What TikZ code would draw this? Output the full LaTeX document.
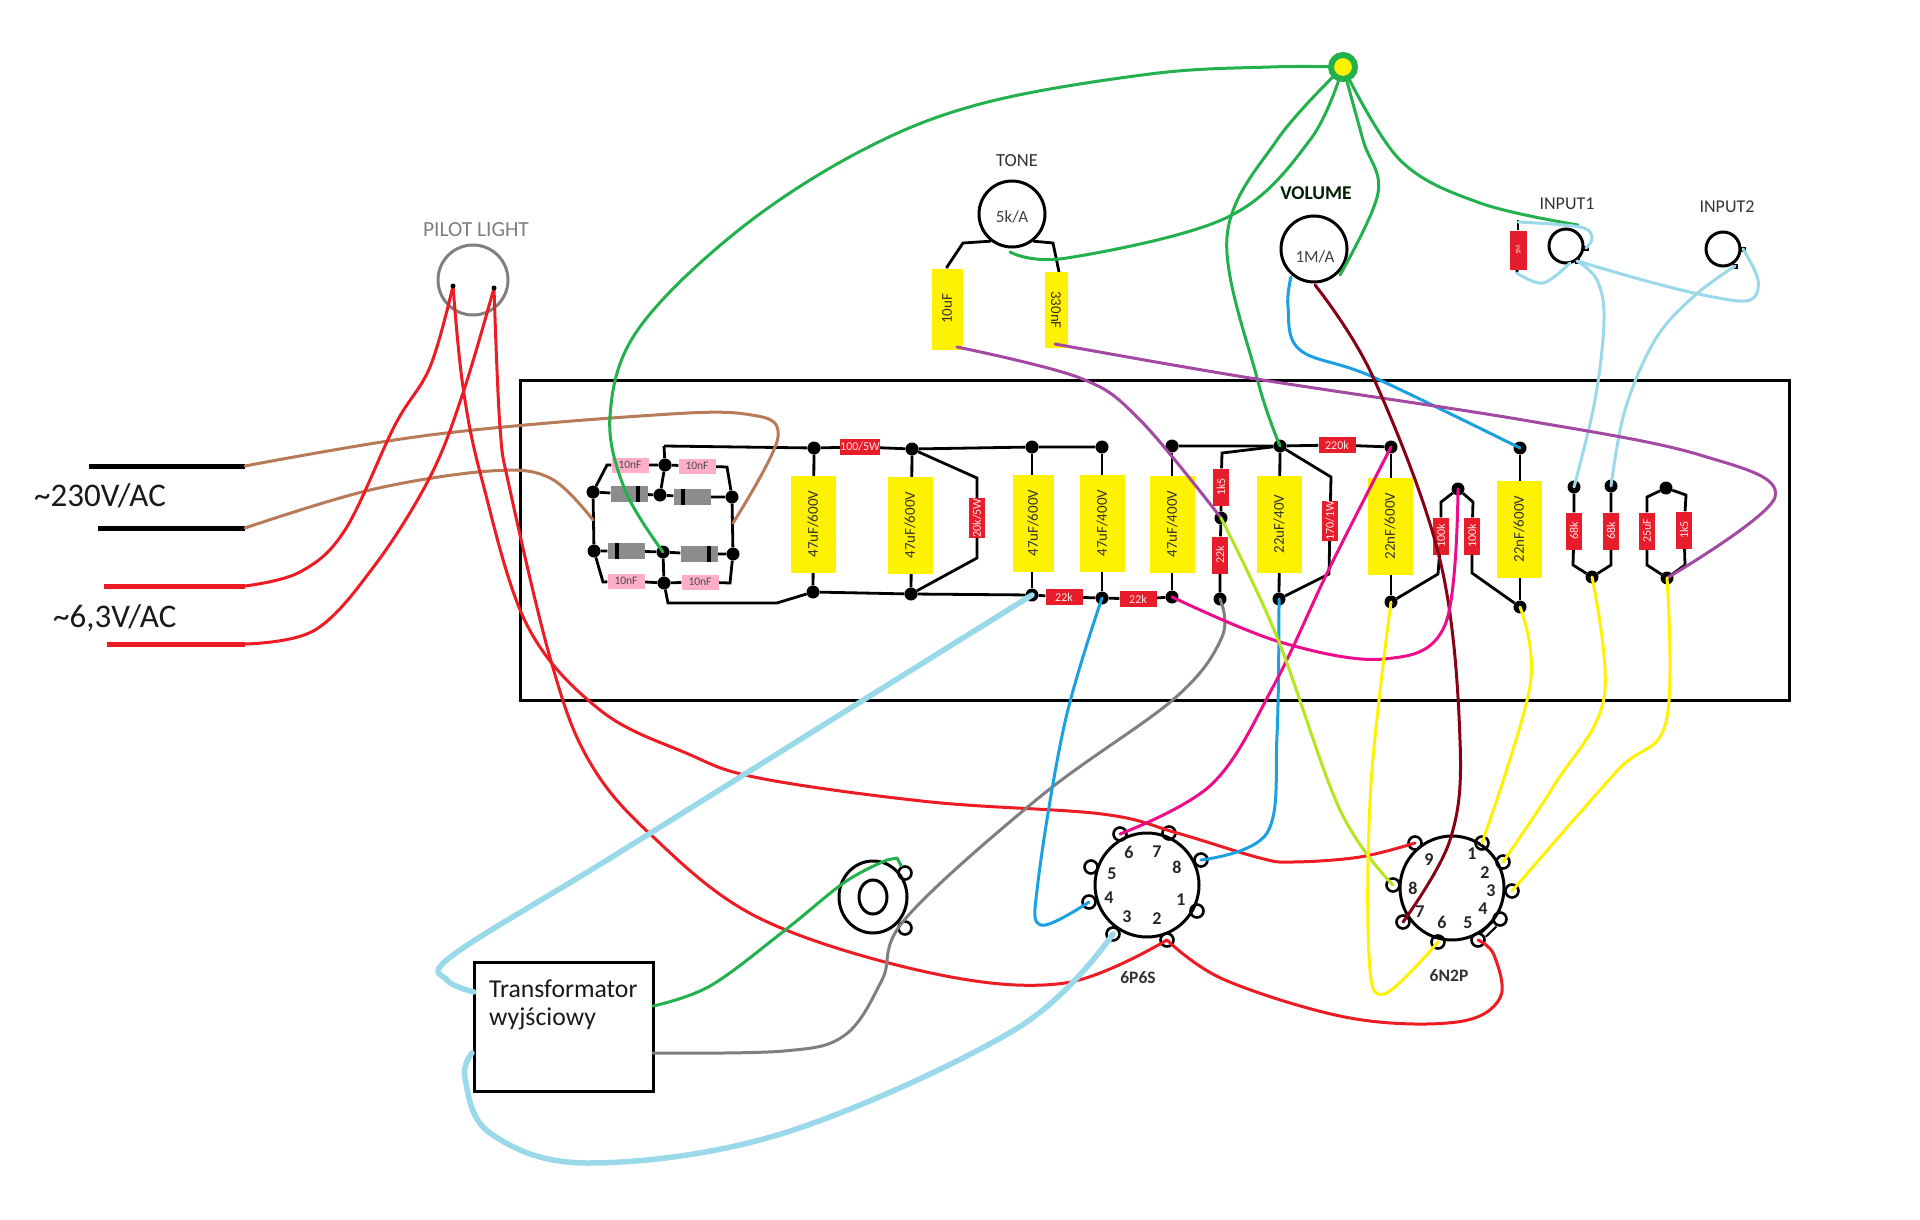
\documentclass[tikz,border=0pt]{standalone}
\usepackage{fontspec}
\setmainfont{Carlito}
\usetikzlibrary{backgrounds,shapes.geometric}
\definecolor{wgreen}{HTML}{22B14C}
\definecolor{wred}{HTML}{ED1C24}
\definecolor{wbrown}{HTML}{B97A57}
\definecolor{wpurple}{HTML}{A349A4}
\definecolor{wsky}{HTML}{99D9EA}
\definecolor{wblue}{HTML}{1BA1E2}
\definecolor{wmag}{HTML}{EC0C8C}
\definecolor{wlime}{HTML}{B5E61D}
\definecolor{wyel}{HTML}{FFF200}
\definecolor{wmar}{HTML}{880015}
\definecolor{wgrey}{HTML}{7F7F7F}
\definecolor{cpink}{HTML}{FFAEC9}
\definecolor{cred}{HTML}{E71D2B}
\definecolor{dgrey}{HTML}{8C8C8C}
\tikzset{
 dotn/.style={circle,fill=black,inner sep=0pt,minimum size=13pt},
 tabn/.style={fill=black,inner sep=0pt,minimum size=5pt},
 pinn/.style={circle,draw=black,line width=2.6pt,inner sep=0pt,minimum size=13pt},
 ycap/.style={fill=wyel,inner sep=0pt,minimum width=97pt,minimum height=45pt,font=\fontsize{15}{16}\selectfont,text=black!80,rotate=90},
 rres/.style={fill=cred,inner sep=0pt,minimum width=37pt,minimum height=16pt,font=\fontsize{12}{13}\selectfont,text=white!90!red,rotate=90},
 hres/.style={fill=cred,inner sep=0pt,minimum width=37pt,minimum height=16pt,font=\fontsize{12}{13}\selectfont,text=white!90!red},
 pcap/.style={fill=cpink,inner sep=0pt,minimum width=37pt,minimum height=15pt,font=\fontsize{11.5}{12}\selectfont,text=black!70},
 diode/.style={fill=dgrey,inner sep=0pt,minimum width=37pt,minimum height=16pt},
 band/.style={fill=black,inner sep=0pt,minimum width=3.5pt,minimum height=16pt},
 blk/.style={draw=black,line width=2.8pt},
 cw/.style={line width=3pt,line cap=round,line join=round},
 thk/.style={line width=5.5pt,line cap=round},
 sm/.style={smooth,tension=0.6},
 lbl/.style={inner sep=0pt,text=black!80},
 pnum/.style={inner sep=0pt,font=\bfseries\fontsize{18}{19}\selectfont,text=black!85},
}
\begin{document}
\begin{tikzpicture}[x=1pt,y=-1pt]
\useasboundingbox (0,0) rectangle (1920,1220);
\node[draw=black,line width=3pt,minimum width=1269pt,minimum height=320pt,inner sep=0pt] (chassis) at (1155,540) {};

% bridge
\node[dotn] (b1) at (593,492) {};
\node[dotn] (b2) at (665,465) {};
\node[dotn] (b3) at (660,495) {};
\node[dotn] (b4) at (732,497) {};
\node[dotn] (b5) at (594,551) {};
\node[dotn] (b6) at (663,552) {};
\node[dotn] (b7) at (733,554) {};
\node[dotn] (b8) at (664,583) {};
\node[pcap] (p1) at (630,465) {10nF};
\node[pcap] (p2) at (697,466) {10nF};
\node[pcap] (p3) at (626,581) {10nF};
\node[pcap] (p4) at (700,582) {10nF};
\node[diode] (g1) at (629,494) {};
\node[diode] (g2) at (692,497) {};
\node[diode] (g3) at (626,551) {};
\node[diode] (g4) at (699,554) {};
\node[band] (g1b) at (638,494) {};
\node[band] (g2b) at (683,497) {};
\node[band] (g3b) at (617,551) {};
\node[band] (g4b) at (709,554) {};
\coordinate (railstart) at (664,446);
\coordinate (br1) at (607,465);
\coordinate (br2) at (727,467);
\coordinate (br3) at (603,582);
\coordinate (br4) at (730,583);
\coordinate (br5) at (668,603);
\coordinate (br6) at (777,603);

% top rail dots
\node[dotn] (t1) at (814,448) {};
\node[dotn] (t2) at (912,449) {};
\node[dotn] (t3) at (1032,447) {};
\node[dotn] (t4) at (1102,447) {};
\node[dotn] (t5) at (1172,446) {};
\node[dotn] (t6) at (1280,446) {};
\node[dotn] (t7) at (1391,447) {};
\node[dotn] (t8) at (1520,448) {};
% bottom dots
\node[dotn] (u1) at (813,592) {};
\node[dotn] (u2) at (911,594) {};
\node[dotn] (u3) at (1032,595) {};
\node[dotn] (u4) at (1102,598) {};
\node[dotn] (u5) at (1172,597) {};
\node[dotn] (u6) at (1220,599) {};
\node[dotn] (u7) at (1279,599) {};
\node[dotn] (u8) at (1391,602) {};
\node[dotn] (u9) at (1520,607) {};
\node[dotn] (m1) at (1221,518) {};
\node[dotn] (m2) at (1458,489) {};
\node[dotn] (r1) at (1574,487) {};
\node[dotn] (r2) at (1611,486) {};
\node[dotn] (r3) at (1592,577) {};
\node[dotn] (r4) at (1666,488) {};
\node[dotn] (r5) at (1667,578) {};

% capacitors
\node[ycap] (c1) at (813,524) {47uF/600V};
\node[ycap] (c2) at (910,525) {47uF/600V};
\node[ycap,minimum height=41pt] (c3) at (1033,523) {47uF/600V};
\node[ycap] (c4) at (1102,523) {47uF/400V};
\node[ycap] (c5) at (1172,524) {47uF/400V};
\node[ycap] (c6) at (1279,524) {22uF/40V};
\node[ycap] (c7) at (1390,526) {22nF/600V};
\node[ycap] (c8) at (1519,529) {22nF/600V};
\node[ycap,minimum width=81pt,minimum height=31pt] (c10u) at (947,309) {10uF};
\node[ycap,minimum width=76pt,minimum height=23pt,rotate=180] (c330) at (1056,310) {330nF};

% resistors
\node[hres] (r100) at (860,447) {100/5W};
\node[rres] (r20k) at (977,518) {20k/5W};
\node[hres] (r22a) at (1064,597) {22k};
\node[hres] (r22b) at (1138,599) {22k};
\node[hres] (r220) at (1337,445) {220k};
\node[rres] (r1k5a) at (1221,487) {1k5};
\node[rres] (r22c) at (1220,555) {22k};
\node[rres] (r170) at (1330,521) {170/1W};
\node[rres] (r100a) at (1441,536) {100k};
\node[rres] (r100b) at (1472,536) {100k};
\node[rres] (r68a) at (1574,531) {68k};
\node[rres] (r68b) at (1611,531) {68k};
\node[rres] (r25) at (1647,531) {25uF};
\node[rres] (r1k5b) at (1684,530) {1k5};
\node[rres,minimum width=39pt,minimum height=17pt,font=\fontsize{7}{8}\selectfont] (r1m) at (1518,250) {1M};

% pots, jacks, lamp
\node[circle,draw=black,line width=3pt,minimum size=66pt,inner sep=0pt] (tone) at (1012,214) {};
\node[circle,draw=black,line width=3pt,minimum size=66pt,inner sep=0pt] (vol) at (1314,249) {};
\node[lbl,font=\fontsize{17}{18}\selectfont,text=black!75] (tonev) at (1012,217) {5k/A};
\node[lbl,font=\fontsize{17}{18}\selectfont,text=black!75] (volv) at (1315,257) {1M/A};
\node[circle,draw=black,line width=3pt,minimum size=34pt,inner sep=0pt] (in1) at (1566,246) {};
\node[circle,draw=black,line width=3pt,minimum size=34pt,inner sep=0pt] (in2) at (1723,249) {};
\node[tabn] (in1a) at (1586,248) {};
\node[tabn] (in1b) at (1577,261) {};
\node[tabn] (in2a) at (1743,249) {};
\node[tabn] (in2b) at (1735,266) {};
\node[circle,draw=gray,line width=3pt,minimum size=70pt,inner sep=0pt] (lamp) at (473,280) {};
\coordinate (hub) at (1343,67);

% labels
\node[lbl,font=\fontsize{18.5}{19}\selectfont] (ltone) at (1017,161) {TONE};
\node[lbl,font=\bfseries\fontsize{19.5}{20}\selectfont,text=black!70!green!40!black] (lvol) at (1316,193) {VOLUME};
\node[lbl,font=\fontsize{18}{19}\selectfont] (lin1) at (1567,204) {INPUT1};
\node[lbl,font=\fontsize{18}{19}\selectfont] (lin2) at (1727,207) {INPUT2};
\node[lbl,font=\fontsize{21.5}{22}\selectfont,text=gray] (llamp) at (476,230) {PILOT LIGHT};
\node[lbl,anchor=west,font=\fontsize{33}{34}\selectfont,text=black!90] (l230) at (34,496) {\textasciitilde 230V/AC};
\node[lbl,anchor=west,font=\fontsize{33}{34}\selectfont,text=black!90] (l63) at (53,618) {\textasciitilde 6,3V/AC};
\node[lbl,font=\bfseries\fontsize{17.5}{18}\selectfont] (l6p) at (1138,978) {6P6S};
\node[lbl,font=\bfseries\fontsize{17.5}{18}\selectfont] (l6n) at (1449,976) {6N2P};

% transformer
\node[draw=black,line width=3pt,minimum width=179pt,minimum height=129pt,inner sep=0pt] (tr) at (563.5,1026.5) {};
\node[lbl,anchor=west,font=\fontsize{25.7}{30}\selectfont,text=black!90] (trt1) at (489,989) {Transformator};
\node[lbl,anchor=west,font=\fontsize{25.7}{30}\selectfont,text=black!90] (trt2) at (489,1019) {wyjściowy};
\coordinate (trg) at (653,1006);
\coordinate (trh) at (653,1053);

% speaker socket
\node[ellipse,draw=black,line width=3pt,minimum width=68pt,minimum height=72pt,inner sep=0pt] (sp) at (873,897) {};
\node[ellipse,draw=black,line width=3pt,minimum width=28pt,minimum height=34pt,inner sep=0pt] (spi) at (873,897) {};
\node[pinn] (s1) at (905,873) {};
\node[pinn] (s2) at (905,928) {};

% tube 6P6S
\node[circle,draw=black,line width=3pt,minimum size=104pt,inner sep=0pt] (v1) at (1147,885) {};
\node[pinn] (a6) at (1120,834) {};
\node[pinn] (a7) at (1169,833) {};
\node[pinn] (a8) at (1201,860) {};
\node[pinn] (a1) at (1197,911) {};
\node[pinn] (a2) at (1167,940) {};
\node[pinn] (a3) at (1113,934) {};
\node[pinn] (a4) at (1089,902) {};
\node[pinn] (a5) at (1091,867) {};
\node[pnum] (an6) at (1129,852) {6};
\node[pnum] (an7) at (1157,852) {7};
\node[pnum] (an8) at (1177,867) {8};
\node[pnum] (an1) at (1181,900) {1};
\node[pnum] (an2) at (1157,919) {2};
\node[pnum] (an3) at (1127,917) {3};
\node[pnum] (an4) at (1109,898) {4};
\node[pnum] (an5) at (1112,874) {5};

% tube 6N2P
\node[circle,draw=black,line width=3pt,minimum size=104pt,inner sep=0pt] (v2) at (1452,888) {};
\node[pinn] (q1) at (1482,843) {};
\node[pinn] (q2) at (1503,862) {};
\node[pinn] (q3) at (1512,891) {};
\node[pinn] (q4) at (1500,919) {};
\node[pinn] (q5) at (1478,940) {};
\node[pinn] (q6) at (1438,942) {};
\node[pinn] (q7) at (1403,922) {};
\node[pinn] (q8) at (1393,885) {};
\node[pinn] (q9) at (1415,843) {};
\node[pnum] (qn1) at (1472,854) {1};
\node[pnum] (qn2) at (1485,873) {2};
\node[pnum] (qn3) at (1491,891) {3};
\node[pnum] (qn4) at (1483,909) {4};
\node[pnum] (qn5) at (1468,923) {5};
\node[pnum] (qn6) at (1442,922) {6};
\node[pnum] (qn7) at (1420,912) {7};
\node[pnum] (qn8) at (1413,888) {8};
\node[pnum] (qn9) at (1429,860) {9};

% black wiring below the components
\begin{scope}[on background layer]
\fill[white] (0,0) rectangle (1920,1220);
\draw[blk] (railstart) -- (t1) -- (r100) -- (t2) -- (t3) -- (t4);
\draw[blk] (railstart) -- (b2) -- (b3);
\draw[blk] (b1) -- (br1) -- (p1) -- (b2) -- (p2) -- (br2) -- (b4);
\draw[blk] (b1) -- (g1) -- (b3) -- (g2) -- (b4) -- (b7);
\draw[blk] (b1) -- (b5) -- (br3) -- (p3) -- (b8) -- (p4) -- (br4) -- (b7);
\draw[blk] (b5) -- (g3) -- (b6) -- (g4) -- (b7);
\draw[blk] (b6) -- (b8) -- (br5) -- (br6) -- (u1) -- (u2) -- (u3) -- (r22a) -- (u4) -- (r22b) -- (u5);
\foreach \a/\b/\c in {t1/c1/u1,t2/c2/u2,t3/c3/u3,t4/c4/u4,t5/c5/u5,t6/c6/u7,t7/c7/u8,t8/c8/u9}{
  \draw[blk] (\a) -- (\c);
}
\draw[blk] (t2) -- (977,478) -- (r20k) -- (977,558) -- (u2);
\draw[blk] (t5) -- (t6) -- (r220) -- (t7);
\draw[blk] (t6) -- (1222,453) -- (r1k5a) -- (m1) -- (r22c) -- (u6);
\draw[blk] (t6) -- (1331,477) -- (r170) -- (1329,574) -- (u7);
\draw[blk] (u8) -- (1438,574) -- (r100a) -- (1441,502) -- (m2) -- (1473,502) -- (r100b) -- (1472,573) -- (u9);
\draw[blk] (r1) -- (r68a) -- (1573,565) -- (r3) -- (1611,565) -- (r68b) -- (r2);
\draw[blk] (r4) -- (1647,497) -- (r25) -- (1647,565) -- (r5) -- (1685,565) -- (r1k5b) -- (1686,495) -- (r4);
\draw[blk] (tone.232) -- (963,243) -- (947,267) -- (c10u.east);
\draw[blk] (tone.308) -- (1053,243) -- (1059,272);
\draw[blk] (r1m) -- (1518,220);
\draw[blk] (r1m) -- (1517,273);
\draw[draw=black,line width=8pt] (q5) -- (q4);
\draw[draw=white,line width=3.5pt] (q5) -- (q4);
\end{scope}

% mains leads
\draw[line width=5pt] (89,466) coordinate (ma1) -- (245,466) coordinate (ma1e);
\draw[line width=5pt] (98,528) coordinate (ma2) -- (245,528) coordinate (ma2e);
\draw[wred,line width=5pt] (104,586) coordinate (h1) -- (245,586) coordinate (h1e);
\draw[wred,line width=5pt] (107,644) coordinate (h2) -- (245,644) coordinate (h2e);
\coordinate (lp1) at (453,286);
\coordinate (lp2) at (494,288);

\draw[wbrown,cw] plot[sm] coordinates {(ma1e) (430,435) (640,416) (745,414) (778,437) (733,523)};
\draw[wbrown,cw] plot[sm] coordinates {(ma2e) (370,490) (490,471) (550,478) (593,520)};

\draw[wred,cw] plot[sm] coordinates {(h1e) (300,572) (345,530) (395,425) (430,367) (lp1)};
\draw[wred,cw] plot[sm] coordinates {(h2e) (315,630) (375,565) (430,477) (463,393) (lp2)};
\draw[wred,cw] plot[sm] coordinates {(lp1) (463,387) (482,480) (527,625) (600,710) (686,753) (759,778) (931,802) (1102,814) (1177,833) (1260,858) (1293,862) (1360,857) (q9)};
\draw[wred,cw] plot[sm] coordinates {(lp2) (500,427) (510,490) (551,661) (588,759) (649,833) (759,918) (931,973) (1065,983) (a2)};
\draw[wred,cw] plot[sm] coordinates {(a2) (1225,980) (1350,1018) (1457,1022) (1500,998) (1494,955) (q5)};
\fill (lp1) circle (2.5pt);
\fill (lp2) circle (2.5pt);

% green
\draw[wgreen,cw] plot[sm] coordinates {(hub) (1270,67) (1150,74) (980,104) (857,153) (735,233) (637,331) (610,416) (625,490) (b6)};
\draw[wgreen,cw] plot[sm] coordinates {(hub) (1310,140) (1228,217) (1067,258) (1010,252)};
\draw[wgreen,cw] plot[sm] coordinates {(hub) (1277,140) (1227,237) (1257,378) (t6)};
\draw[wgreen,cw] plot[sm] coordinates {(hub) (1363,140) (1378,193) (1340,275)};
\draw[wgreen,cw] plot[sm] coordinates {(hub) (1400,160) (1480,203) (1578,225)};
\draw[wgreen,cw] plot[sm] coordinates {(trg) (710,986) (784,931) (845,882) (887,860)} -- (897,858) -- (s1);

% grey
\draw[wgrey,cw] plot[sm] coordinates {(trh) (784,1051) (845,1035) (882,980) (906,918) (1041,796) (1175,698) (1222,637) (u6)};

% sky-blue
\draw[wsky,thk] plot[sm] coordinates {(u3) (857,704) (612,857) (453,955) (447,980) (474,992)};
\draw[wsky,thk] plot[sm] coordinates {(a3) (1016,1029) (784,1133) (588,1163) (490,1133) (465,1078) (472,1053)};
\draw[wsky,cw] plot[sm] coordinates {(1518,222) (1580,227) (1592,238) (in1a)};
\draw[wsky,cw] plot[sm] coordinates {(1517,273) (1543,283) (1570,263)};
\draw[wsky,cw] plot[sm] coordinates {(in1b) (1597,280) (1604,320) (1595,400) (r1)};
\draw[wsky,cw] plot[sm] coordinates {(in1b) (1650,282) (1713,297) (1750,300) (1758,280) (in2a)};
\draw[wsky,cw] plot[sm] coordinates {(in2b) (1693,297) (1655,340) (1625,410) (r2)};

% blue
\draw[wblue,cw] plot[sm] coordinates {(1291,277) (1288,307) (1300,350) (1373,377) (t8)};
\draw[wblue,cw] plot[sm] coordinates {(u4) (1065,722) (1038,882) (1041,925) (a4)};
\draw[wblue,cw] plot[sm] coordinates {(u7) (1277,735) (1267,833) (a8)};

% purple
\draw[wpurple,cw] plot[sm] coordinates {(957,347) (1080,378) (1140,420) (m1)};
\draw[wpurple,cw] plot[sm] coordinates {(1055,344) (1250,378) (1523,420) (1700,455) (1775,497) (r5)};

% maroon
\draw[wmar,cw] plot[sm] coordinates {(1315,285) (1373,377) (1440,560) (1460,740) (1450,840) (q7)};

% magenta
\draw[wmag,cw] plot[sm] coordinates {(u5) (1280,642) (1384,659) (1445,625) (m2)};
\draw[wmag,cw] plot[sm] coordinates {(a6) (1212,784) (1274,685) (1330,567) (t7)};

% lime
\draw[wlime,cw] plot[sm] coordinates {(m1) (1277,637) (1340,810) (q8)};

% yellow
\draw[wyel,cw] plot[sm] coordinates {(u8) (1371,784) (1369,955) (1384,994) (q6)};
\draw[wyel,cw] plot[sm] coordinates {(u9) (1530,686) (q1)};
\draw[wyel,cw] plot[sm] coordinates {(r3) (1604,698) (1555,784) (q2)};
\draw[wyel,cw] plot[sm] coordinates {(r5) (1666,722) (1616,772) (q3)};

\node[circle,draw=wgreen,line width=6pt,fill=wyel,minimum size=24pt,inner sep=0pt] (hubring) at (hub) {};
\end{tikzpicture}
\end{document}
